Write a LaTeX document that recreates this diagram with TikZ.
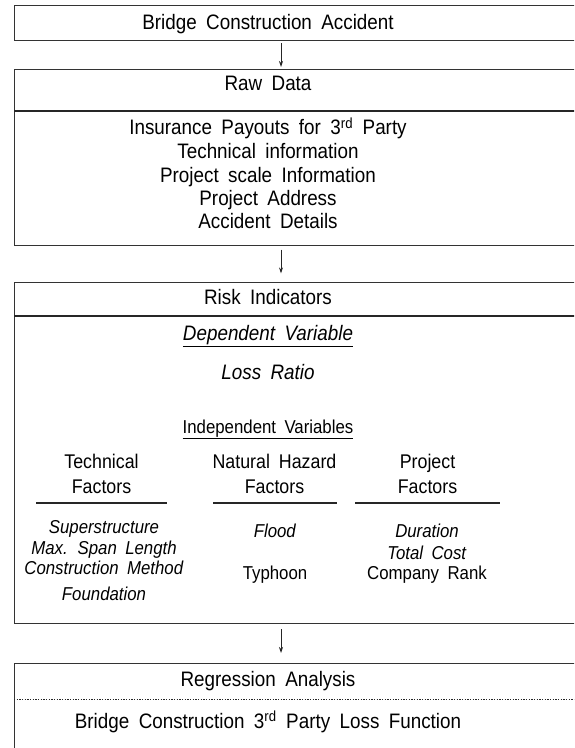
\documentclass[tikz,border=0pt]{standalone}
\usepackage{fontspec}
\setmainfont{Liberation Sans}[WordSpace=1.8,FakeStretch=0.9]
\usetikzlibrary{arrows.meta}
\newcommand{\bigtxt}{\fontsize{15.7pt}{18pt}\selectfont}
\newcommand{\midtxt}{\fontsize{14.85pt}{17pt}\selectfont}
\newcommand{\smalltxt}{\fontsize{14pt}{16pt}\selectfont}

\begin{document}
\begin{tikzpicture}[x=0.75pt,y=-0.75pt,
  box/.style={draw=black!80,line width=1pt,anchor=north west,minimum width=439.5pt,inner sep=0pt},
  title/.style={anchor=base,font=\bigtxt,inner sep=0pt},
  head/.style={anchor=base,font=\midtxt,inner sep=0pt},
  item/.style={anchor=base,font=\smalltxt,inner sep=0pt},
  arr/.style={-{Stealth[length=4.5pt,width=3pt]},line width=0.6pt,black!85},
  rule/.style={line width=0.8pt,black!85}]
\useasboundingbox (0,0) rectangle (574,748);
\clip (0,0) rectangle (574,748);
% frames
\node[box,minimum height=26.25pt] at (14,5) (accBox) {};
\node[box,minimum height=132pt] at (14,69) (rawBox) {};
\node[box,minimum height=255.75pt] at (14,282) (riskBox) {};
\node[box,minimum height=105pt] at (14,663) (regBox) {};
\coordinate (mid) at (281,0);
\draw[arr,shorten <=1.5pt,shorten >=1.5pt] (accBox.south -| mid) -- (rawBox.north -| mid);
\draw[arr,shorten <=2.5pt,shorten >=6.5pt] (rawBox.south -| mid) -- (riskBox.north -| mid);
\draw[arr,shorten <=3.5pt,shorten >=7.5pt] (riskBox.south -| mid) -- (regBox.north -| mid);
% top box
\node[title] at (268,29.5) (accTxt) {Bridge Construction Accident};
% raw data
\node[title] at (268,90.5) (rawTxt) {Raw Data};
\draw[rule] (14,111) -- (600,111);
\node[title] at (268,135) (raw1) {Insurance Payouts for 3\textsuperscript{rd} Party};
\node[title] at (268,159) (raw2) {Technical information};
\node[title] at (268,183) (raw3) {Project scale Information};
\node[title] at (268,206) (raw4) {Project Address};
\node[title] at (268,229) (raw5) {Accident Details};
% risk indicators
\node[title] at (268,304) (riskTxt) {Risk Indicators};
\draw[rule] (14,316) -- (600,316);
\node[title] at (268,340) (depTxt) {\underline{\textit{Dependent Variable}}};
\node[title] at (268,379) (lossTxt) {\textit{Loss Ratio}};
\node[item] at (268,433) (indTxt) {\underline{Independent Variables}};
\node[head] at (101.5,468) (techA) {Technical};
\node[head] at (101.5,493) (techB) {Factors};
\node[head] at (274.5,468) (natA) {Natural Hazard};
\node[head] at (274.5,493) (natB) {Factors};
\node[head] at (427.5,468) (projA) {Project};
\node[head] at (427.5,493) (projB) {Factors};
\draw[rule] (36,503) -- (167,503);
\draw[rule] (213,503) -- (337,503);
\draw[rule] (355,503) -- (500,503);
\node[item] at (104,533) (tech1) {\textit{Superstructure}};
\node[item] at (104,554) (tech2) {\textit{Max. Span Length}};
\node[item] at (104,574) (tech3) {\textit{Construction Method}};
\node[item] at (104,600) (tech4) {\textit{Foundation}};
\node[item] at (275,537) (nat1) {\textit{Flood}};
\node[item] at (275,579) (nat2) {Typhoon};
\node[item] at (427,537) (proj1) {\textit{Duration}};
\node[item] at (427,559) (proj2) {\textit{Total Cost}};
\node[item] at (427,579) (proj3) {Company Rank};
% regression
\node[title] at (268,686) (regTxt) {Regression Analysis};
\draw[black!85,line width=0.6pt,dash pattern=on 1.1pt off 0.9pt] (14,699) -- (600,699);
\node[title] at (268,728) (funTxt) {Bridge Construction 3\textsuperscript{rd} Party Loss Function};
\end{tikzpicture}
\end{document}
